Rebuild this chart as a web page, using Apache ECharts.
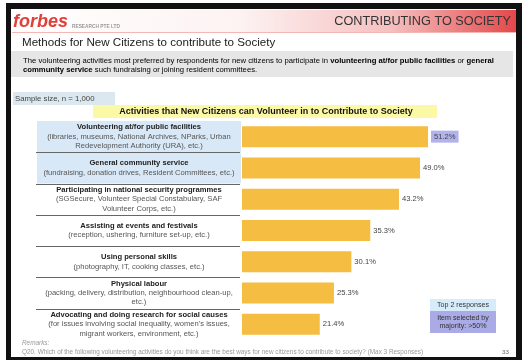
<!DOCTYPE html>
<html>
<head>
<meta charset="utf-8">
<script src="https://cdn.jsdelivr.net/npm/echarts@6/dist/echarts.min.js"></script>
<style>html,body{margin:0;padding:0;background:#fff}#c{width:522px;height:360px}</style>
</head>
<body>
<div id="c"></div>
<script>
const categories = [
  'Volunteering at/for public facilities',
  'General community service',
  'Participating in national security programmes',
  'Assisting at events and festivals',
  'Using personal skills',
  'Physical labour',
  'Advocating and doing research for social causes'
];
const descriptions = [
  ['(libraries, museums, National Archives, NParks, Urban', 'Redevelopment Authority (URA), etc.)'],
  ['(fundraising, donation drives, Resident Committees, etc.)'],
  ['(SGSecure, Volunteer Special Constabulary, SAF', 'Volunteer Corps, etc.)'],
  ['(reception, ushering, furniture set-up, etc.)'],
  ['(photography, IT, cooking classes, etc.)'],
  ['(packing, delivery, distribution, neighbourhood clean-up,', 'etc.)'],
  ['(for issues involving social inequality, women\'s issues,', 'migrant workers, environment, etc.)']
];
const values = [51.2, 49.0, 43.2, 35.3, 30.1, 25.3, 21.4];
const topCount = 2;
const majorityThreshold = 50;

const FONT = '"Liberation Sans", Arial, sans-serif';
const chart = echarts.init(document.getElementById('c'), null, {renderer: 'canvas'});

chart.setOption({
  backgroundColor: '#ffffff',
  animation: false,
  grid: {left: 242, top: 121, width: 218, height: 219, containLabel: false},
  xAxis: {type: 'value', min: 0, max: 60, show: false},
  yAxis: {
    type: 'category', inverse: true, data: categories,
    axisLine: {show: false}, axisTick: {show: false}, splitLine: {show: false},
    axisLabel: {
      margin: 103, align: 'center', verticalAlign: 'middle',
      formatter: function (v, i) {
        let s = '{t|' + v + '}';
        descriptions[i].forEach(function (d) { s += '\n{d|' + d + '}'; });
        return s;
      },
      rich: {
        t: {fontFamily: FONT, fontSize: 7.6, fontWeight: 'bold', color: '#222', lineHeight: 9.3, align: 'center'},
        d: {fontFamily: FONT, fontSize: 7.6, color: '#555', lineHeight: 9.3, align: 'center'}
      }
    }
  },
  series: [{
    type: 'bar', barWidth: 21, z: 5,
    data: values.map(function (v) {
      return v > majorityThreshold
        ? {value: v, label: {backgroundColor: '#b2b2ec', padding: [2, 3, 2, 3], color: '#444'}}
        : {value: v};
    }),
    itemStyle: {color: '#f5bd41'},
    label: {
      show: true, position: 'right', distance: 3,
      fontFamily: FONT, fontSize: 7.6, color: '#444',
      formatter: function (p) { return p.value.toFixed(1) + '%'; }
    }
  }]
});

const g = [];
// frame
g.push({type: 'rect', z: -20, shape: {x: 6, y: 3, width: 516, height: 357}, style: {fill: '#111'}});
g.push({type: 'rect', z: -19, shape: {x: 11, y: 9, width: 505, height: 348}, style: {fill: '#fff'}});
// header band
g.push({type: 'rect', z: -18, shape: {x: 11, y: 10, width: 505, height: 22},
  style: {fill: new echarts.graphic.LinearGradient(0, 0, 1, 0, [
    {offset: 0, color: '#ffffff'}, {offset: 0.45, color: '#fdf3f3'}, {offset: 0.75, color: '#f6c0c0'}, {offset: 1, color: '#e4484a'}
  ])}});
g.push({type: 'line', z: -17, shape: {x1: 12, y1: 32.5, x2: 516, y2: 32.5}, style: {stroke: '#f2b8b8', lineWidth: 1}});
g.push({type: 'text', z: 10, style: {text: 'forbes', x: 13, y: 22, textVerticalAlign: 'middle', fill: '#e0403a', font: 'italic bold 18px "Liberation Sans", Arial, sans-serif'}});
g.push({type: 'text', z: 10, style: {text: 'RESEARCH PTE LTD', x: 72, y: 27, textVerticalAlign: 'middle', fill: '#999', font: 'bold 4.8px "Liberation Sans", Arial, sans-serif'}});
g.push({type: 'text', z: 10, style: {text: 'CONTRIBUTING TO SOCIETY', x: 511, y: 21, textAlign: 'right', textVerticalAlign: 'middle', fill: '#333', font: '12.7px "Liberation Sans", Arial, sans-serif'}});
// title
g.push({type: 'text', z: 10, style: {text: 'Methods for New Citizens to contribute to Society', x: 22, y: 43, textVerticalAlign: 'middle', fill: '#222', font: '11.6px "Liberation Sans", Arial, sans-serif'}});
// description box
g.push({type: 'rect', z: -10, shape: {x: 11, y: 51, width: 502, height: 26}, style: {fill: '#e6e6e6'}});
g.push({type: 'text', z: 10, style: {
  text: '{n|The volunteering activities most preferred by respondents for new citizens to participate in }{b|volunteering at/for public facilities}{n| or }{b|general}\n{b|community service}{n| such fundraising or joining resident committees.}',
  x: 23, y: 56, textVerticalAlign: 'top',
  rich: {
    n: {fontFamily: FONT, fontSize: 7.7, color: '#444', lineHeight: 9.5},
    b: {fontFamily: FONT, fontSize: 7.7, fontWeight: 'bold', color: '#222', lineHeight: 9.5}
  }
}});
// sample size
g.push({type: 'rect', z: -10, shape: {x: 13, y: 92, width: 102, height: 13}, style: {fill: '#dce8f0'}});
g.push({type: 'text', z: 10, style: {text: 'Sample size, n = 1,000', x: 15, y: 98.5, textVerticalAlign: 'middle', fill: '#444', font: '7.8px "Liberation Sans", Arial, sans-serif'}});
// chart title
g.push({type: 'rect', z: -10, shape: {x: 93, y: 105, width: 344, height: 13}, style: {fill: '#fcf9a6'}});
g.push({type: 'text', z: 10, style: {text: 'Activities that New Citizens can Volunteer in to Contribute to Society', x: 266, y: 111.5, textAlign: 'center', textVerticalAlign: 'middle', fill: '#111', font: 'bold 9px "Liberation Sans", Arial, sans-serif'}});

// row backgrounds & separators from axis scale
const centers = categories.map(function (c, i) { return chart.convertToPixel({yAxisIndex: 0}, i); });
const step = centers[1] - centers[0];
categories.forEach(function (c, i) {
  const top = centers[i] - step / 2;
  if (i < topCount) {
    g.push({type: 'rect', z: -9, shape: {x: 37, y: top, width: 204, height: step}, style: {fill: '#d8e8f6'}});
  }
  if (i < categories.length - 1) {
    const y = Math.round(top + step) + 0.5;
    g.push({type: 'line', z: -8, shape: {x1: 36, y1: y, x2: 240, y2: y}, style: {stroke: '#666', lineWidth: 1.2}});
  }
});

// legend boxes
g.push({type: 'rect', z: -5, shape: {x: 430, y: 299, width: 66, height: 12}, style: {fill: '#d6ecfb'}});
g.push({type: 'text', z: 10, style: {text: 'Top 2 responses', x: 463, y: 305, textAlign: 'center', textVerticalAlign: 'middle', fill: '#333', font: '7.1px "Liberation Sans", Arial, sans-serif'}});
g.push({type: 'rect', z: -5, shape: {x: 430, y: 311, width: 66, height: 22}, style: {fill: '#aaaae6'}});
g.push({type: 'text', z: 10, style: {text: 'Item selected by\nmajority: >50%', x: 463, y: 322, textAlign: 'center', textVerticalAlign: 'middle', fill: '#333', lineHeight: 8.5, font: '7.1px "Liberation Sans", Arial, sans-serif'}});

// remarks
g.push({type: 'text', z: 10, style: {text: 'Remarks:', x: 22, y: 343, textVerticalAlign: 'middle', fill: '#999', font: 'italic 6.4px "Liberation Sans", Arial, sans-serif'}});
g.push({type: 'text', z: 10, style: {text: 'Q20. Which of the following volunteering activities do you think are the best ways for new citizens to contribute to society? (Max 3 Responses)', x: 22, y: 352, textVerticalAlign: 'middle', fill: '#999', font: '6.4px "Liberation Sans", Arial, sans-serif'}});
g.push({type: 'text', z: 10, style: {text: '33', x: 509, y: 352, textAlign: 'right', textVerticalAlign: 'middle', fill: '#666', font: '6.2px "Liberation Sans", Arial, sans-serif'}});

chart.setOption({graphic: g});
</script>
</body>
</html>
